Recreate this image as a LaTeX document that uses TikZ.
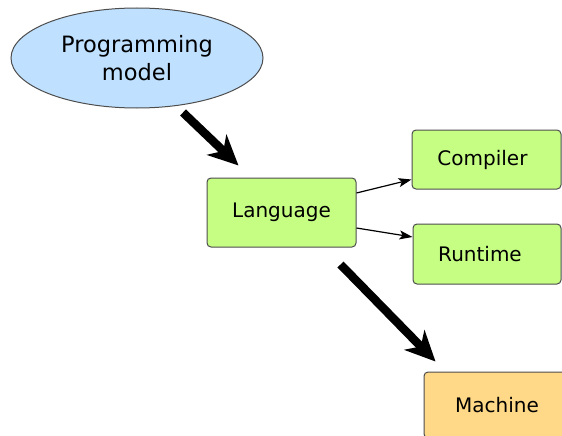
\documentclass[tikz,border=0pt]{standalone}
\usepackage{fontspec}
\setmainfont{DejaVu Sans}
\usetikzlibrary{shapes.geometric,arrows.meta}

\definecolor{modelblue}{HTML}{BFE1FF}
\definecolor{partgreen}{HTML}{C6FE84}
\definecolor{machorange}{HTML}{FFD987}
\definecolor{edgegray}{HTML}{4D4D4D}

\tikzset{
  partbox/.style={draw=edgegray, line width=1pt, rounded corners=4pt,
    fill=partgreen, inner sep=0pt, font=\fontsize{20}{24}\selectfont},
  bigflow/.style={line width=8.5pt, -{Stealth[length=30pt, width=28pt, inset=9pt]}},
  smallflow/.style={line width=1.2pt, -{Stealth[length=13pt, width=9pt, inset=3pt]}},
}

\begin{document}
\begin{tikzpicture}[x=1pt, y=-1pt]
  \useasboundingbox (0,0) rectangle (562,436);
  \clip (0,0) rectangle (562,436);

  % programming model
  \node[ellipse, draw=edgegray, line width=1pt, fill=modelblue,
        minimum width=252pt, minimum height=100pt, inner sep=0pt,
        align=center, font=\fontsize{22.5}{28}\selectfont]
    (pm) at (137,58) {Programming\\model};

  % language and its two parts
  \node[partbox, minimum width=149pt, minimum height=69pt] (lang) at (281.5,212.5) {Language};
  \node[partbox, minimum width=149pt, minimum height=59pt] (comp) at (486.5,159.5) {\hspace*{-8pt}Compiler};
  \node[partbox, minimum width=148pt, minimum height=60pt] (rt) at (487,254) {\hspace*{-14pt}Runtime};

  % machine, running off the page
  \node[partbox, fill=machorange, minimum width=146pt, minimum height=66pt] (mach) at (497,405) {Machine};

  % thick flows
  \draw[bigflow] ([xshift=46pt, yshift=-4pt]pm.south) -- ([xshift=32pt, yshift=12pt]lang.north west);
  \draw[bigflow] ([xshift=-16pt, yshift=-17pt]lang.south east) -- ([xshift=12pt, yshift=10pt]mach.north west);

  % thin flows
  \draw[smallflow] ([yshift=19.5pt]lang.east) -- ([yshift=10pt]comp.south west);
  \draw[smallflow] ([yshift=-15.5pt]lang.east) -- ([yshift=17pt]rt.west);
\end{tikzpicture}
\end{document}
